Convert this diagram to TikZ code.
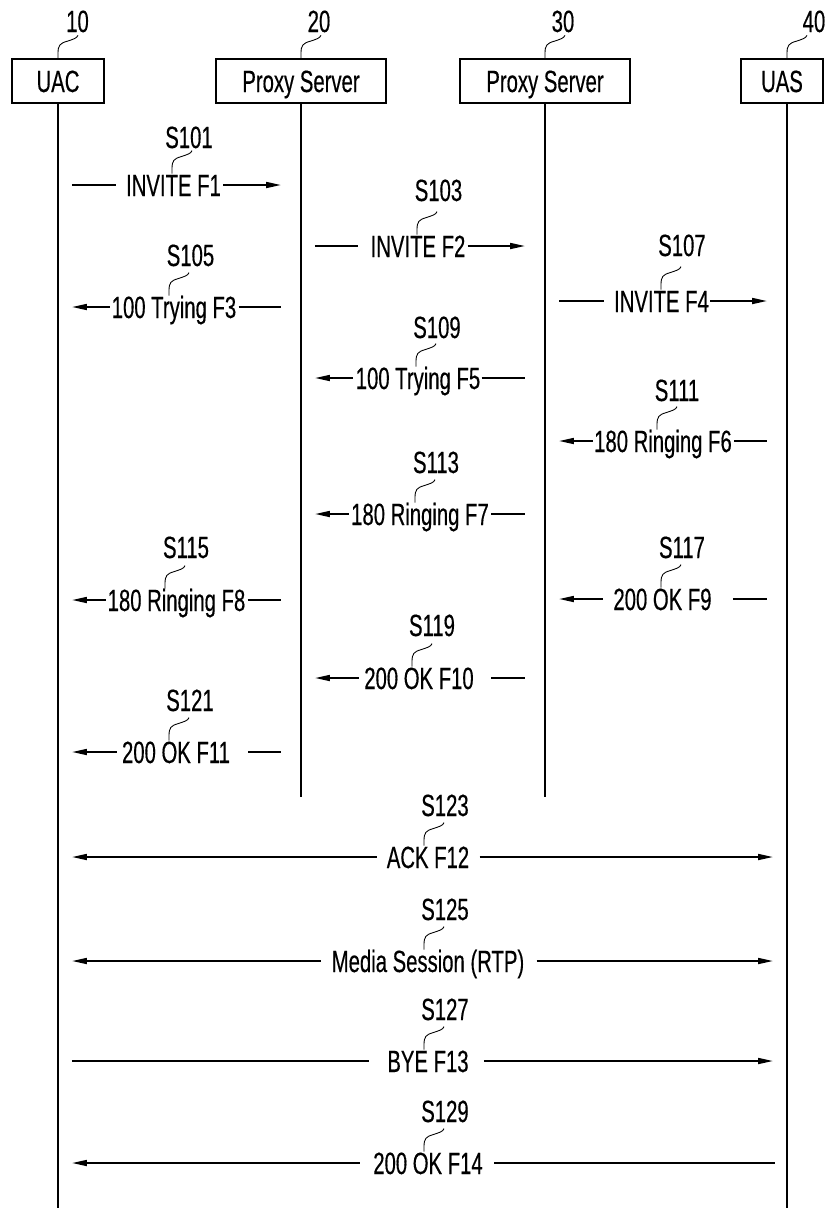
\documentclass[tikz,border=0pt]{standalone}
\usepackage{fontspec}
\setmainfont{Liberation Sans}[FakeStretch=0.66,FakeBold=0.4]
\usetikzlibrary{arrows.meta,positioning}
\newcommand{\lead}[2]{\draw[leader] (#1.north -| #2,0) -- ++(0,-5) .. controls +(0,-8) and +(-7,2) .. ++(9,-12) .. controls +(6,-2) and +(-1,3) .. ++(11,-6);}

\begin{document}
\begin{tikzpicture}[x=0.02cm,y=-0.02cm,
  every node/.style={font=\fontsize{17.5}{20}\selectfont,inner sep=0pt,text height=0.44cm,text depth=0pt},
  box/.style={draw,line width=1.1pt,minimum height=0.87cm},
  life/.style={line width=1.5pt},
  sig/.style={line width=1pt},
  leader/.style={line width=0.5pt},
  segL/.style={sig,shorten <=0.28cm,shorten >=#1},segL/.default=0.04cm,
  segR/.style={sig,shorten >=0.4cm,shorten <=#1},segR/.default=0.04cm,
  >={Triangle[length=8.5pt,width=3.4pt]}]
\useasboundingbox (0,0) rectangle (825,1208);
\node[box,minimum width=1.84cm] (uac) at (58,81) {UAC};
\node[box,minimum width=3.4cm] (p20) at (301,81) {Proxy Server};
\node[box,minimum width=3.4cm] (p30) at (545,81) {Proxy Server};
\node[box,minimum width=1.64cm] (uas) at (782,81) {UAS};
\coordinate (uacend) at (58,1208);\coordinate (p20end) at (301,797);
\coordinate (p30end) at (545,797);\coordinate (uasend) at (787,1208);
\draw[life] (uac.south) -- (uacend);\draw[life] (p20.south) -- (p20end);
\draw[life] (p30.south) -- (p30end);\draw[life] (uas.south -| uasend) -- (uasend);
\node (n10) at (77.5,21){10};\node (n20) at (319,21){20};\node (n30) at (563,21){30};\node (n40) at (814,21){40};
\lead{uac}{58}\lead{p20}{301}\lead{p30}{545}\lead{uas}{787}

\node (f1) at (173.5,185){INVITE F1};\node (s101) at (189,137){S101};\lead{f1}{172}
\draw[segL=0.2cm] (f1 -| uac) -- (f1.west);\draw[segR,->] (f1.east) -- (f1 -| p20);
\node (f2) at (418,246){INVITE F2};\node (s103) at (438.5,190){S103};\lead{f2}{417}
\draw[segL=0.24cm] (f2 -| p20) -- (f2.west);\draw[segR,->] (f2.east) -- (f2 -| p30);
\node (f3) at (174,307){100 Trying F3};\node (s105) at (190.5,255){S105};\lead{f3}{169}
\draw[segL=0.02cm,<-] (f3 -| uac) -- (f3.west);\draw[segR] (f3.east) -- (f3 -| p20);
\node (f4) at (661.5,301){INVITE F4};\node (s107) at (682,245){S107};\lead{f4}{661}
\draw[segL=0.2cm] (f4 -| p30) -- (f4.west);\draw[segR=0.02cm,->] (f4.east) -- (f4 -| uasend);
\node (f5) at (418,378){100 Trying F5};\node (s109) at (437,327){S109};\lead{f5}{416}
\draw[segL,<-] (f5 -| p20) -- (f5.west);\draw[segR=0.02cm] (f5.east) -- (f5 -| p30);
\node (f6) at (663,441){180 Ringing F6};\node (s111) at (677,390){S111};\lead{f6}{657}
\draw[segL=0.02cm,<-] (f6 -| p30) -- (f6.west);\draw[segR] (f6.east) -- (f6 -| uasend);
\node (f7) at (420,514){180 Ringing F7};\node (s113) at (436,462){S113};\lead{f7}{415}
\draw[segL,<-] (f7 -| p20) -- (f7.west);\draw[segR] (f7.east) -- (f7 -| p30);
\node (f8) at (176.5,600){180 Ringing F8};\node (s115) at (186,547){S115};\lead{f8}{165}
\draw[segL=0.02cm,<-] (f8 -| uac) -- (f8.west);\draw[segR] (f8.east) -- (f8 -| p20);
\node (f9) at (662.5,599){200 OK F9};\node (s117) at (682,547){S117};\lead{f9}{661}
\draw[segL=0.2cm,<-] (f9 -| p30) -- (f9.west);\draw[segR=0.42cm] (f9.east) -- (f9 -| uasend);
\node (f10) at (419,678){200 OK F10};\node (s119) at (432,625){S119};\lead{f10}{412}
\draw[segL=0.1cm,<-] (f10 -| p20) -- (f10.west);\draw[segR=0.34cm] (f10.east) -- (f10 -| p30);
\node (f11) at (176,752){200 OK F11};\node (s121) at (190,700){S121};\lead{f11}{169}
\draw[segL=0.1cm,<-] (f11 -| uac) -- (f11.west);\draw[segR=0.36cm] (f11.east) -- (f11 -| p20);

\node (f12) at (428,857){ACK F12};\node (s123) at (445,805){S123};\lead{f12}{424}
\draw[segL=0.18cm,<-] (f12 -| uac) -- (f12.west);\draw[segR=0.2cm,shorten >=0.28cm,->] (f12.east) -- (f12 -| uasend);
\node (rtp) at (428,961){Media Session (RTP)};\node (s125) at (445,909){S125};\lead{rtp}{424}
\draw[segL=0.2cm,<-] (rtp -| uac) -- (rtp.west);\draw[segR=0.24cm,shorten >=0.28cm,->] (rtp.east) -- (rtp -| uasend);
\node (f13) at (428,1061){BYE F13};\node (s127) at (445,1009){S127};\lead{f13}{424}
\draw[segL=0.36cm] (f13 -| uac) -- (f13.west);\draw[segR=0.3cm,shorten >=0.28cm,->] (f13.east) -- (f13 -| uasend);
\node (f14) at (428,1163){200 OK F14};\node (s129) at (445,1111){S129};\lead{f14}{424}
\draw[segL=0.26cm,<-] (f14 -| uac) -- (f14.west);\draw[segR=0.22cm,shorten >=0.24cm] (f14.east) -- (f14 -| uasend);
\end{tikzpicture}
\end{document}
